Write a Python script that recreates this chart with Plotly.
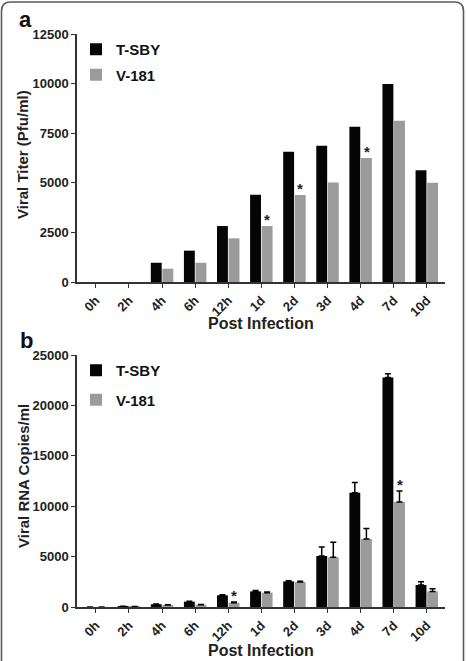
import plotly.graph_objects as go

categories = ["0h", "2h", "4h", "6h", "12h", "1d", "2d", "3d", "4d", "7d", "10d"]

# Panel a: viral titer (Pfu/ml)
titer_tsby = [0, 0, 970, 1580, 2820, 4400, 6570, 6870, 7830, 9980, 5630]
titer_v181 = [0, 0, 670, 970, 2200, 2820, 4390, 5020, 6250, 8130, 5000]
titer_star_idx = [5, 6, 8]

# Panel b: viral RNA copies/ml
rna_tsby = [0, 80, 270, 530, 1160, 1550, 2540, 5060, 11340, 22780, 2180]
rna_v181 = [0, 50, 200, 230, 430, 1420, 2480, 4930, 6750, 10420, 1550]
rna_tsby_err = [0, 0, 20, 40, 60, 80, 60, 900, 1000, 350, 330]
rna_v181_err = [0, 0, 20, 20, 60, 80, 80, 1500, 1050, 1100, 270]
rna_star_idx = [4, 9]

titer_ticks = [0, 2500, 5000, 7500, 10000, 12500]
rna_ticks = [0, 5000, 10000, 15000, 20000, 25000]

x_title = "Post Infection"
ya_title = "Viral Titer (Pfu/ml)"
yb_title = "Viral RNA Copies/ml"

W, H = 467, 661
BLACK = "#050505"
GRAY = "#9b9b9b"
AXC = "#333333"
FONT = "Liberation Sans, Arial, sans-serif"


def px(x):
    return x / W


def py(y):
    return 1 - y / H


fig = go.Figure()


def err(arr):
    if arr is None:
        return None
    return dict(type="data", array=arr, arrayminus=[0] * len(arr), symmetric=False,
                color="black", thickness=1.5, width=3, visible=True)


def add_panel(xa, ya, legend, black, gray, berr=None, gerr=None):
    fig.add_trace(go.Bar(
        x=categories, y=black, name="T-SBY", marker=dict(color=BLACK, line=dict(width=0)),
        error_y=err(berr), xaxis=xa, yaxis=ya, legend=legend, legendgroup=legend + "t"))
    fig.add_trace(go.Bar(
        x=categories, y=gray, name="V-181", marker=dict(color=GRAY, line=dict(width=0)),
        error_y=err(gerr), xaxis=xa, yaxis=ya, legend=legend, legendgroup=legend + "v"))


add_panel("x", "y", "legend", titer_tsby, titer_v181)
add_panel("x2", "y2", "legend2", rna_tsby, rna_v181, rna_tsby_err, rna_v181_err)

tickfont = dict(family=FONT, size=13, color="#222", weight="bold")
ytickfont = dict(family=FONT, size=13, color="#222", weight="bold")
titlefont = dict(family=FONT, size=16, color="#222", weight="bold")
ytitlefont = dict(family=FONT, size=15, color="#222", weight="bold")

xcommon = dict(type="category", range=[-0.57, 10.55], domain=[px(77), px(445)],
               showline=True, linecolor=AXC, linewidth=1.5, ticks="outside", ticklen=4,
               tickwidth=1.2, tickcolor=AXC, tickangle=-45, tickfont=tickfont,
               showgrid=False, zeroline=False, automargin=False)
ycommon = dict(showline=True, linecolor=AXC, linewidth=1.5, ticks="outside", ticklen=4,
               tickwidth=1.2, tickcolor=AXC, tickfont=ytickfont, showgrid=False,
               zeroline=False, automargin=False)

legfont = dict(family=FONT, size=15, color="#111", weight="bold")
legcommon = dict(font=legfont, bgcolor="rgba(0,0,0,0)", traceorder="grouped",
                 xanchor="left", yanchor="top", itemwidth=30)

fig.update_layout(
    width=W, height=H,
    margin=dict(l=0, r=0, t=0, b=0),
    paper_bgcolor="white", plot_bgcolor="white",
    barmode="group", bargap=0.3, bargroupgap=0.06,
    xaxis=dict(**xcommon, anchor="y"),
    yaxis=dict(**ycommon, anchor="x", domain=[py(282), py(34)], range=[0, 12500],
               tickvals=titer_ticks, ticktext=[str(v) for v in titer_ticks]),
    xaxis2=dict(**xcommon, anchor="y2"),
    yaxis2=dict(**ycommon, anchor="x2", domain=[py(607), py(355)], range=[0, 25000],
                tickvals=rna_ticks, ticktext=[str(v) for v in rna_ticks]),
    legend=dict(**legcommon, x=px(76), y=py(33), tracegroupgap=3),
    legend2=dict(**legcommon, x=px(76), y=py(354), tracegroupgap=7),
    showlegend=True,
)

annotations = []
starfont = dict(family=FONT, size=15, color="#222", weight="bold")
for i in titer_star_idx:
    annotations.append(dict(x=categories[i], y=titer_v181[i], xref="x", yref="y",
                            text="*", showarrow=False, yanchor="bottom", xshift=6, yshift=-4,
                            font=starfont))
for i in rna_star_idx:
    annotations.append(dict(x=categories[i], y=rna_v181[i] + rna_v181_err[i], xref="x2", yref="y2",
                            text="*", showarrow=False, yanchor="bottom", xshift=6, yshift=-4,
                            font=starfont))
# axis titles
annotations.append(dict(x=px(261), y=py(323), xref="paper", yref="paper", text=x_title,
                        showarrow=False, xanchor="center", yanchor="middle", font=titlefont))
annotations.append(dict(x=px(261), y=py(650), xref="paper", yref="paper", text=x_title,
                        showarrow=False, xanchor="center", yanchor="middle", font=titlefont))
annotations.append(dict(x=px(23), y=py(155), xref="paper", yref="paper", text=ya_title,
                        textangle=-90, showarrow=False, xanchor="center", yanchor="middle",
                        font=ytitlefont))
annotations.append(dict(x=px(23), y=py(476), xref="paper", yref="paper", text=yb_title,
                        textangle=-90, showarrow=False, xanchor="center", yanchor="middle",
                        font=ytitlefont))
# panel letters
annotations.append(dict(x=px(25), y=py(20), xref="paper", yref="paper", text="a",
                        showarrow=False, xanchor="center", yanchor="middle",
                        font=dict(family=FONT, size=22, color="#111", weight="bold")))
annotations.append(dict(x=px(26), y=py(340), xref="paper", yref="paper", text="b",
                        showarrow=False, xanchor="center", yanchor="middle",
                        font=dict(family=FONT, size=22, color="#111", weight="bold")))
fig.update_layout(annotations=annotations)

# rounded outer frame (open at the bottom)
x0, x1, yt, yb = px(1.5), px(463.5), py(2), py(700)
rx, ry = px(9), 9 / H
path = (f"M {x0},{yb} L {x0},{yt - ry} Q {x0},{yt} {x0 + rx},{yt} "
        f"L {x1 - rx},{yt} Q {x1},{yt} {x1},{yt - ry} L {x1},{yb}")
fig.add_shape(type="path", path=path, xref="paper", yref="paper",
              line=dict(color="#5a5a5a", width=1.6))

fig.write_html("out.html")
